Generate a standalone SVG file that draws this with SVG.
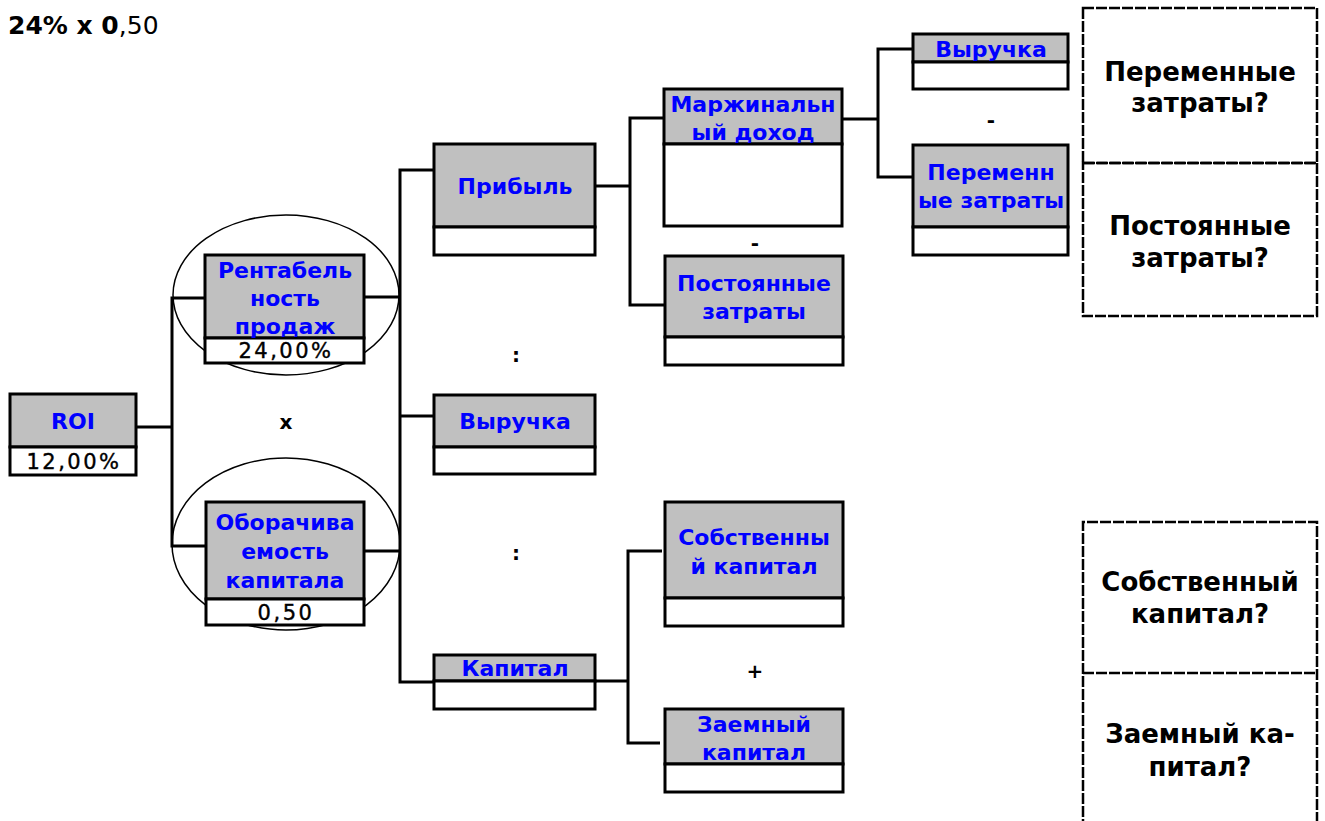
<svg xmlns="http://www.w3.org/2000/svg" width="1325" height="821" viewBox="0 0 1325 821">
<style>
.box{stroke:#000;stroke-width:3;}
.hd{fill:#C0C0C0;}
.vl{fill:#fff;}
.lbl{font-family:"DejaVu Sans",Verdana,sans-serif;font-weight:bold;font-size:22px;fill:#0000FF;text-anchor:middle;dominant-baseline:central;}
.num{font-family:"DejaVu Sans",Verdana,sans-serif;font-size:21px;fill:#000;stroke:#000;stroke-width:0.4;text-anchor:middle;dominant-baseline:central;letter-spacing:2.5px;}
.op{font-family:"DejaVu Sans",Verdana,sans-serif;font-weight:bold;font-size:20px;fill:#000;text-anchor:middle;dominant-baseline:central;}
.q{font-family:"DejaVu Sans",Verdana,sans-serif;font-weight:bold;font-size:26px;fill:#000;text-anchor:middle;dominant-baseline:central;}
.con{fill:none;stroke:#000;stroke-width:3;}
.dash{fill:none;stroke:#000;stroke-width:2.5;stroke-dasharray:11 2;}
.ell{fill:none;stroke:#000;stroke-width:1.5;}
</style>

<text x="8" y="25" style="font-family:'DejaVu Sans',Verdana,sans-serif;font-size:25px;fill:#000;dominant-baseline:central;"><tspan font-weight="bold">24% x 0</tspan>,50</text>

<g id="connectors">
  <polyline class="con" points="136,427 172,427"/>
  <polyline class="con" points="205,298 172,298 172,546 206,546"/>
  <polyline class="con" points="364,297 400,297"/>
  <polyline class="con" points="364,551 400,551"/>
  <polyline class="con" points="434,170 400,170 400,682 434,682"/>
  <polyline class="con" points="400,416 434,416"/>
  <polyline class="con" points="595,186 630,186"/>
  <polyline class="con" points="664,118 630,118 630,305 665,305"/>
  <polyline class="con" points="842,119 878,119"/>
  <polyline class="con" points="913,49 878,49 878,177 913,177"/>
  <polyline class="con" points="595,681 628,681"/>
  <polyline class="con" points="662,551 628,551 628,743 660,743"/>
</g>

<g id="ellipse-rentab"><ellipse class="ell" cx="286" cy="295" rx="113" ry="80"/></g>
<g id="ellipse-obor"><ellipse class="ell" cx="286" cy="544" rx="114" ry="86"/></g>

<g id="roi">
  <rect class="box hd" x="10" y="394" width="126" height="53"/>
  <rect class="box vl" x="10" y="447" width="126" height="28"/>
  <text class="lbl" x="73" y="421">ROI</text>
  <text class="num" x="74" y="462">12,00%</text>
</g>

<g id="rentab">
  <rect class="box hd" x="205" y="255" width="159" height="83"/>
  <rect class="box vl" x="205" y="338" width="159" height="25"/>
  <text class="lbl" x="285" y="270">Рентабель</text>
  <text class="lbl" x="285" y="298">ность</text>
  <text class="lbl" x="285" y="326">продаж</text>
  <text class="num" x="286" y="351">24,00%</text>
</g>

<g id="obor">
  <rect class="box hd" x="206" y="502" width="158" height="97"/>
  <rect class="box vl" x="206" y="599" width="158" height="26"/>
  <text class="lbl" x="285" y="522">Оборачива</text>
  <text class="lbl" x="285" y="551">емость</text>
  <text class="lbl" x="285" y="580">капитала</text>
  <text class="num" x="286" y="613">0,50</text>
</g>

<g id="pribyl">
  <rect class="box hd" x="434" y="144" width="161" height="83"/>
  <rect class="box vl" x="434" y="227" width="161" height="28"/>
  <text class="lbl" x="515" y="186">Прибыль</text>
</g>

<g id="vyruchka">
  <rect class="box hd" x="434" y="395" width="161" height="52"/>
  <rect class="box vl" x="434" y="447" width="161" height="27"/>
  <text class="lbl" x="515" y="421">Выручка</text>
</g>

<g id="kapital">
  <rect class="box hd" x="434" y="655" width="161" height="26"/>
  <rect class="box vl" x="434" y="681" width="161" height="28"/>
  <text class="lbl" x="515" y="668">Капитал</text>
</g>

<g id="marzh">
  <rect class="box hd" x="664" y="89" width="178" height="55"/>
  <rect class="box vl" x="664" y="144" width="178" height="82"/>
  <text class="lbl" x="753" y="104">Маржинальн</text>
  <text class="lbl" x="753" y="132">ый доход</text>
</g>

<g id="post">
  <rect class="box hd" x="665" y="256" width="178" height="81"/>
  <rect class="box vl" x="665" y="337" width="178" height="28"/>
  <text class="lbl" x="754" y="283">Постоянные</text>
  <text class="lbl" x="754" y="311">затраты</text>
</g>

<g id="vyruchka2">
  <rect class="box hd" x="913" y="34" width="155" height="28"/>
  <rect class="box vl" x="913" y="62" width="155" height="27"/>
  <text class="lbl" x="991" y="49">Выручка</text>
</g>

<g id="perem">
  <rect class="box hd" x="913" y="145" width="155" height="82"/>
  <rect class="box vl" x="913" y="227" width="155" height="28"/>
  <text class="lbl" x="991" y="172">Переменн</text>
  <text class="lbl" x="991" y="200">ые затраты</text>
</g>

<g id="sobst">
  <rect class="box hd" x="665" y="502" width="178" height="96"/>
  <rect class="box vl" x="665" y="598" width="178" height="28"/>
  <text class="lbl" x="754" y="537">Собственны</text>
  <text class="lbl" x="754" y="566">й капитал</text>
</g>

<g id="zaem">
  <rect class="box hd" x="665" y="709" width="178" height="55"/>
  <rect class="box vl" x="665" y="764" width="178" height="28"/>
  <text class="lbl" x="754" y="724">Заемный</text>
  <text class="lbl" x="754" y="752">капитал</text>
</g>

<g id="operators">
  <text class="op" x="286" y="422">x</text>
  <text class="op" x="516" y="355">:</text>
  <text class="op" x="516" y="553">:</text>
  <text class="op" x="755" y="243">-</text>
  <text class="op" x="991" y="120">-</text>
  <text class="op" x="755" y="671">+</text>
</g>

<g id="q-top">
  <rect class="dash" x="1083" y="8" width="234" height="155"/>
  <rect class="dash" x="1083" y="163" width="234" height="153"/>
  <text class="q" x="1200" y="72">Переменные</text>
  <text class="q" x="1200" y="103">затраты?</text>
  <text class="q" x="1200" y="226">Постоянные</text>
  <text class="q" x="1200" y="258">затраты?</text>
</g>

<g id="q-bottom">
  <path class="dash" d="M1083,830 V522 H1317 V830"/>
  <line class="dash" x1="1083" y1="673" x2="1317" y2="673"/>
  <text class="q" x="1200" y="582">Собственный</text>
  <text class="q" x="1200" y="614">капитал?</text>
  <text class="q" x="1200" y="734">Заемный ка-</text>
  <text class="q" x="1200" y="767">питал?</text>
</g>
</svg>
